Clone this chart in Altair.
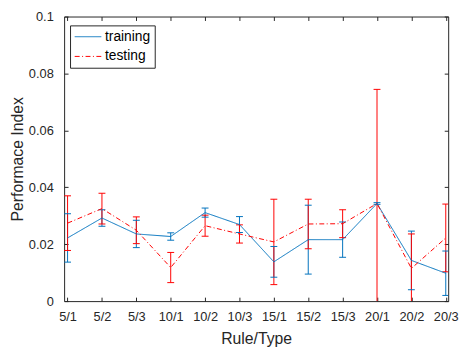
import altair as alt
import pandas as pd

labels = ["5/1", "5/2", "5/3", "10/1", "10/2", "10/3", "15/1", "15/2", "15/3", "20/1", "20/2", "20/3"]
train_mean = [0.0222, 0.0292, 0.0236, 0.0227, 0.0311, 0.0269, 0.0138, 0.0216, 0.0216, 0.0343, 0.0143, 0.0098]
train_err = [0.0085, 0.0029, 0.0048, 0.0013, 0.0016, 0.0028, 0.0054, 0.0121, 0.0062, 0.0003, 0.0103, 0.0078]
test_mean = [0.0274, 0.0325, 0.0249, 0.0118, 0.0265, 0.0236, 0.0208, 0.0271, 0.0272, 0.0343, 0.0115, 0.0222]
test_err = [0.0096, 0.0054, 0.0047, 0.0053, 0.0037, 0.0032, 0.0150, 0.0087, 0.0049, 0.0401, 0.0121, 0.0119]
series_names = ["training", "testing"]
series_colors = ["#0072BD", "#FF0000"]
y_ticks = [0, 0.02, 0.04, 0.06, 0.08, 0.1]

rows = []
for name, means, errs in (("training", train_mean, train_err), ("testing", test_mean, test_err)):
    for i, (lab, m, e) in enumerate(zip(labels, means, errs)):
        rows.append(dict(rt=lab, idx=i + 1, series=name, mean=m, lo=m - e, hi=m + e))
df = pd.DataFrame(rows)

FONT = "Liberation Sans"
AX = "#262626"
label_expr = "[" + ",".join(f"'{l}'" for l in labels) + "][datum.value - 1]"

xscale = alt.Scale(domain=[0.9, 12.07], nice=False, zero=False)
yscale = alt.Scale(domain=[0, 0.1], nice=False)
legend_common = dict(orient="none", legendX=6, legendY=9, title=None,
                     symbolType="M-1,0H3", symbolSize=182.25, symbolStrokeWidth=1,
                     labelFontSize=14, labelFont=FONT, labelColor="#000000",
                     strokeColor=AX, fillColor="white", padding=4,
                     rowPadding=5, labelOffset=16.5)
color = alt.Color("series:N", scale=alt.Scale(domain=series_names, range=series_colors),
                  sort=series_names, legend=alt.Legend(**legend_common))
dash = alt.StrokeDash("series:N", scale=alt.Scale(domain=series_names, range=[[1, 0], [5, 2.5, 1, 2.5]]),
                      sort=series_names, legend=alt.Legend(**legend_common))

x_bottom = alt.Axis(values=list(range(1, 13)), labelExpr=label_expr, tickSize=4, offset=-4,
                    domain=False, grid=False, labelPadding=10, title="Rule/Type",
                    titlePadding=7, labelFontSize=13, titleFontSize=16, labelFont=FONT,
                    titleFont=FONT, titleFontWeight="normal", labelColor=AX, titleColor=AX,
                    tickColor=AX, labelFlush=False)
y_left = alt.Axis(values=y_ticks, format="~g", tickSize=4, offset=-4, domain=False, grid=False,
                  labelPadding=11, title="Performace Index", titlePadding=3, labelFontSize=13,
                  titleFontSize=16, labelFont=FONT, titleFont=FONT, titleFontWeight="normal",
                  labelColor=AX, titleColor=AX, tickColor=AX)
x_top = alt.Axis(orient="top", values=list(range(1, 13)), labels=False, tickSize=4, offset=-4,
                 domain=False, grid=False, title=None, tickColor=AX)
y_right = alt.Axis(orient="right", values=y_ticks, labels=False, tickSize=4, offset=-4,
                   domain=False, grid=False, title=None, tickColor=AX)

base = alt.Chart(df)

rules = base.mark_rule(strokeWidth=1, clip=True).encode(
    x=alt.X("idx:Q", scale=xscale, axis=x_top),
    y=alt.Y("lo:Q", scale=yscale, axis=y_right),
    y2="hi:Q",
    color=color,
    detail="series:N",
)
caps = base.transform_fold(["lo", "hi"], as_=["end", "val"]).mark_rule(
    strokeWidth=1, clip=True, xOffset=-3.5, x2Offset=3.5
).encode(
    x=alt.X("idx:Q", scale=xscale, axis=None),
    x2="idx:Q",
    y=alt.Y("val:Q", scale=yscale, axis=None),
    color=color,
)
lines = base.mark_line(strokeWidth=1, clip=True).encode(
    x=alt.X("idx:Q", scale=xscale, axis=x_bottom),
    y=alt.Y("mean:Q", scale=yscale, axis=y_left),
    color=color,
    strokeDash=dash,
    order="idx:Q",
)

chart = alt.layer(rules, caps, lines).resolve_axis(x="independent", y="independent").properties(
    width=390, height=289,
    autosize=alt.AutoSizeParams(type="none"),
    padding={"left": 57, "top": 6, "right": 12, "bottom": 48},
    background="white",
).configure_view(stroke=AX, strokeWidth=1)

chart.save("out.html", embed_options={"renderer": "svg", "actions": False})
